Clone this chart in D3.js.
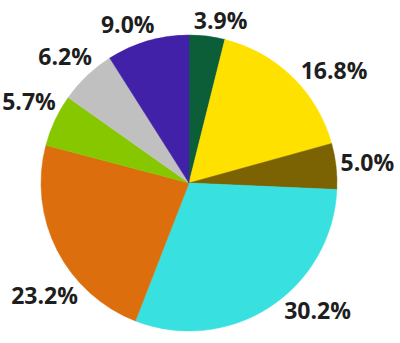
<!DOCTYPE html>
<html>
<head>
<meta charset="utf-8">
<script src="https://cdn.jsdelivr.net/npm/d3@7"></script>
<style>
  html, body { margin: 0; padding: 0; background: #ffffff; }
  svg { display: block; }
</style>
</head>
<body>
<svg id="chart" width="400" height="343"></svg>
<script>
// ---- data ----
const categories = ["A", "B", "C", "D", "E", "F", "G", "H"];
const values = [3.9, 16.8, 5.0, 30.2, 23.2, 5.7, 6.2, 9.0];
const labels = ["3.9%", "16.8%", "5.0%", "30.2%", "23.2%", "5.7%", "6.2%", "9.0%"];
const colors = ["#0c5e38", "#ffe100", "#7b6303", "#38e0df", "#dc6e0d", "#86c700", "#c0c0c0", "#4221a9"];

// ---- layout (label angular nudges, degrees, to follow the reference's label placement) ----
const labelNudge = [4, 8, 0, -12, -11, 2, -1, -5];

const W = 400, H = 343;
const cx = 189, cy = 183, R = 148;
const gap = 4;

const svg = d3.select("#chart");
const g = svg.append("g").attr("transform", `translate(${cx},${cy})`);

const pie = d3.pie().sort(null).value(d => d.value);
const arc = d3.arc().innerRadius(0).outerRadius(R);

const data = categories.map((c, i) => ({ cat: c, value: values[i], label: labels[i], color: colors[i], nudge: labelNudge[i] }));
const arcs = pie(data);

g.selectAll("path.slice")
  .data(arcs)
  .join("path")
  .attr("class", "slice")
  .attr("d", arc)
  .attr("fill", d => d.data.color)
  .attr("stroke", d => d.data.color)
  .attr("stroke-width", 0.5);

const fontSize = 23;
const capH = fontSize * 0.714;

const txt = g.selectAll("text.lbl")
  .data(arcs)
  .join("text")
  .attr("class", "lbl")
  .attr("text-anchor", "middle")
  .style("font-family", "'Open Sans', 'DejaVu Sans', sans-serif")
  .style("font-weight", 700)
  .style("font-size", fontSize + "px")
  .attr("fill", "#1e1e1e")
  .text(d => d.data.label);

txt.each(function(d) {
  const w = this.getComputedTextLength();
  const mid = (d.startAngle + d.endAngle) / 2 + d.data.nudge * Math.PI / 180;
  const s = Math.sin(mid), c = -Math.cos(mid);
  const dist = R + gap + Math.abs(s) * w / 2 + Math.abs(c) * capH / 2;
  const x = s * dist, y = c * dist;
  d3.select(this).attr("x", x).attr("y", y + capH / 2);
});
</script>
</body>
</html>
